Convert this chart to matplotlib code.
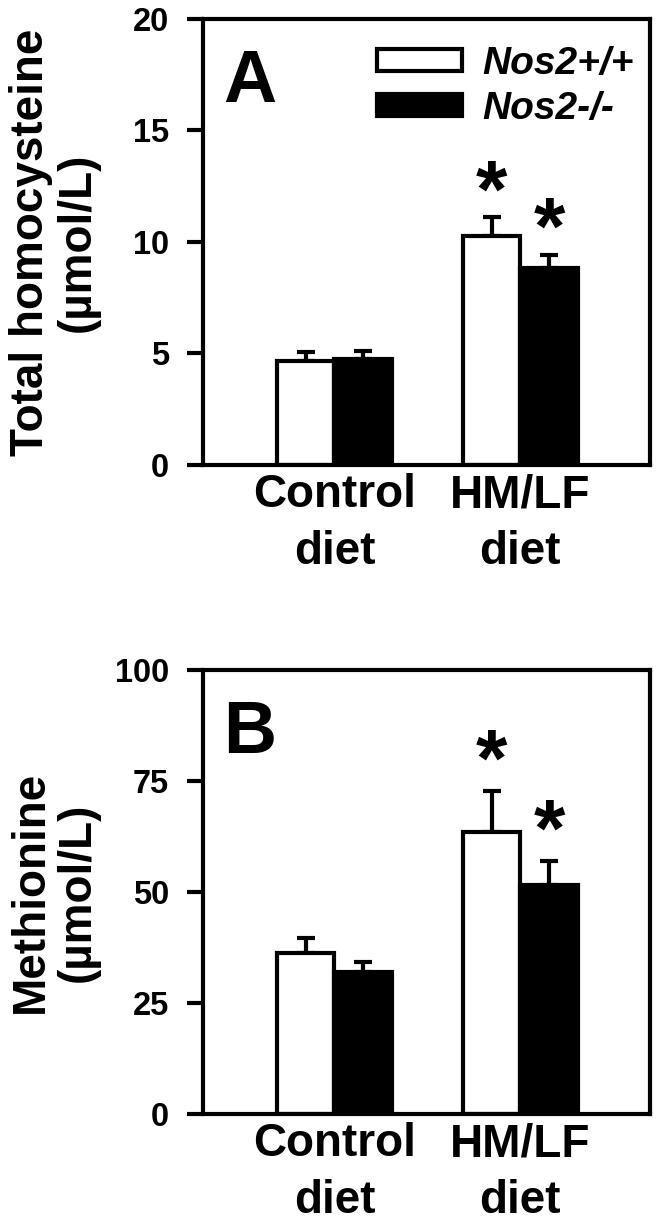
import numpy as np
import matplotlib
matplotlib.use("Agg")
import matplotlib.pyplot as plt
from matplotlib.patches import Patch

plt.rcParams['font.family'] = ['Liberation Sans', 'DejaVu Sans']
plt.rcParams['font.weight'] = 'bold'

# data
diets = ["Control\ndiet", "HM/LF\ndiet"]
genotypes = ["Nos2+/+", "Nos2-/-"]

hcy_wt = [4.65, 10.25]
hcy_wt_err = [0.40, 0.85]
hcy_ko = [4.77, 8.85]
hcy_ko_err = [0.32, 0.55]
hcy_sig = [False, True]

met_wt = [36.3, 63.6]
met_wt_err = [3.3, 9.2]
met_ko = [32.0, 51.6]
met_ko_err = [2.3, 5.4]
met_sig = [False, True]

fig = plt.figure(figsize=(6.59, 12.23), dpi=100)
axA = fig.add_axes([0.308, 0.6198, 0.678, 0.3647])
axB = fig.add_axes([0.308, 0.0891, 0.678, 0.3630])

w = 0.31
x = np.arange(len(diets))


def panel(ax, wt, wt_err, ko, ko_err, sig, ymax, yticks, ylabel, letter, star_off):
    ax.bar(x - w / 2, wt, w, color='white', edgecolor='black', linewidth=3, zorder=2)
    ax.bar(x + w / 2, ko, w, color='black', edgecolor='black', linewidth=3, zorder=2)
    for xs, m, e in [(x - w / 2, wt, wt_err), (x + w / 2, ko, ko_err)]:
        ax.errorbar(xs, m, yerr=[np.zeros(len(e)), e], fmt='none', ecolor='black',
                    elinewidth=3, capsize=6.5, capthick=3, zorder=1)
    for i in range(len(x)):
        if sig[i]:
            ax.text(x[i] - w / 2, wt[i] + wt_err[i] + star_off, '*', ha='center',
                    va='center', fontsize=58, fontweight='bold')
            ax.text(x[i] + w / 2, ko[i] + ko_err[i] + star_off, '*', ha='center',
                    va='center', fontsize=58, fontweight='bold')

    ax.set_xlim(-0.707, 1.696)
    ax.set_ylim(0, ymax)
    ax.set_yticks(yticks)
    ax.set_xticks(x)
    ax.set_xticklabels(diets, fontsize=33, fontweight='bold', linespacing=1.36)
    ax.tick_params(axis='x', length=0, pad=6)
    ax.tick_params(axis='y', direction='out', length=11.5, width=3, pad=13, labelsize=23.5)
    for s in ax.spines.values():
        s.set_linewidth(3)
    ax.set_ylabel(ylabel, fontsize=33, fontweight='bold', linespacing=1.06)
    ax.yaxis.set_label_coords(-0.232, 0.5)
    ax.text(0.045, 0.935, letter, transform=ax.transAxes, fontsize=53,
            fontweight='bold', va='top', ha='left')


panel(axA, hcy_wt, hcy_wt_err, hcy_ko, hcy_ko_err, hcy_sig, 20, [0, 5, 10, 15, 20],
      "Total homocysteine\n(\u00b5mol/L)", "A", 1.0)
panel(axB, met_wt, met_wt_err, met_ko, met_ko_err, met_sig, 100, [0, 25, 50, 75, 100],
      "Methionine\n(\u00b5mol/L)", "B", 6.0)

handles = [Patch(facecolor='white', edgecolor='black', linewidth=3),
           Patch(facecolor='black', edgecolor='black', linewidth=3)]
axA.legend(handles, genotypes, loc='upper left', bbox_to_anchor=(0.389, 0.94),
           frameon=False, borderpad=0, borderaxespad=0, handlelength=2.2,
           handleheight=0.49, handletextpad=0.51, labelspacing=0.24,
           prop={'size': 28, 'weight': 'bold', 'style': 'italic'})

fig.savefig("out.png", dpi=100)
